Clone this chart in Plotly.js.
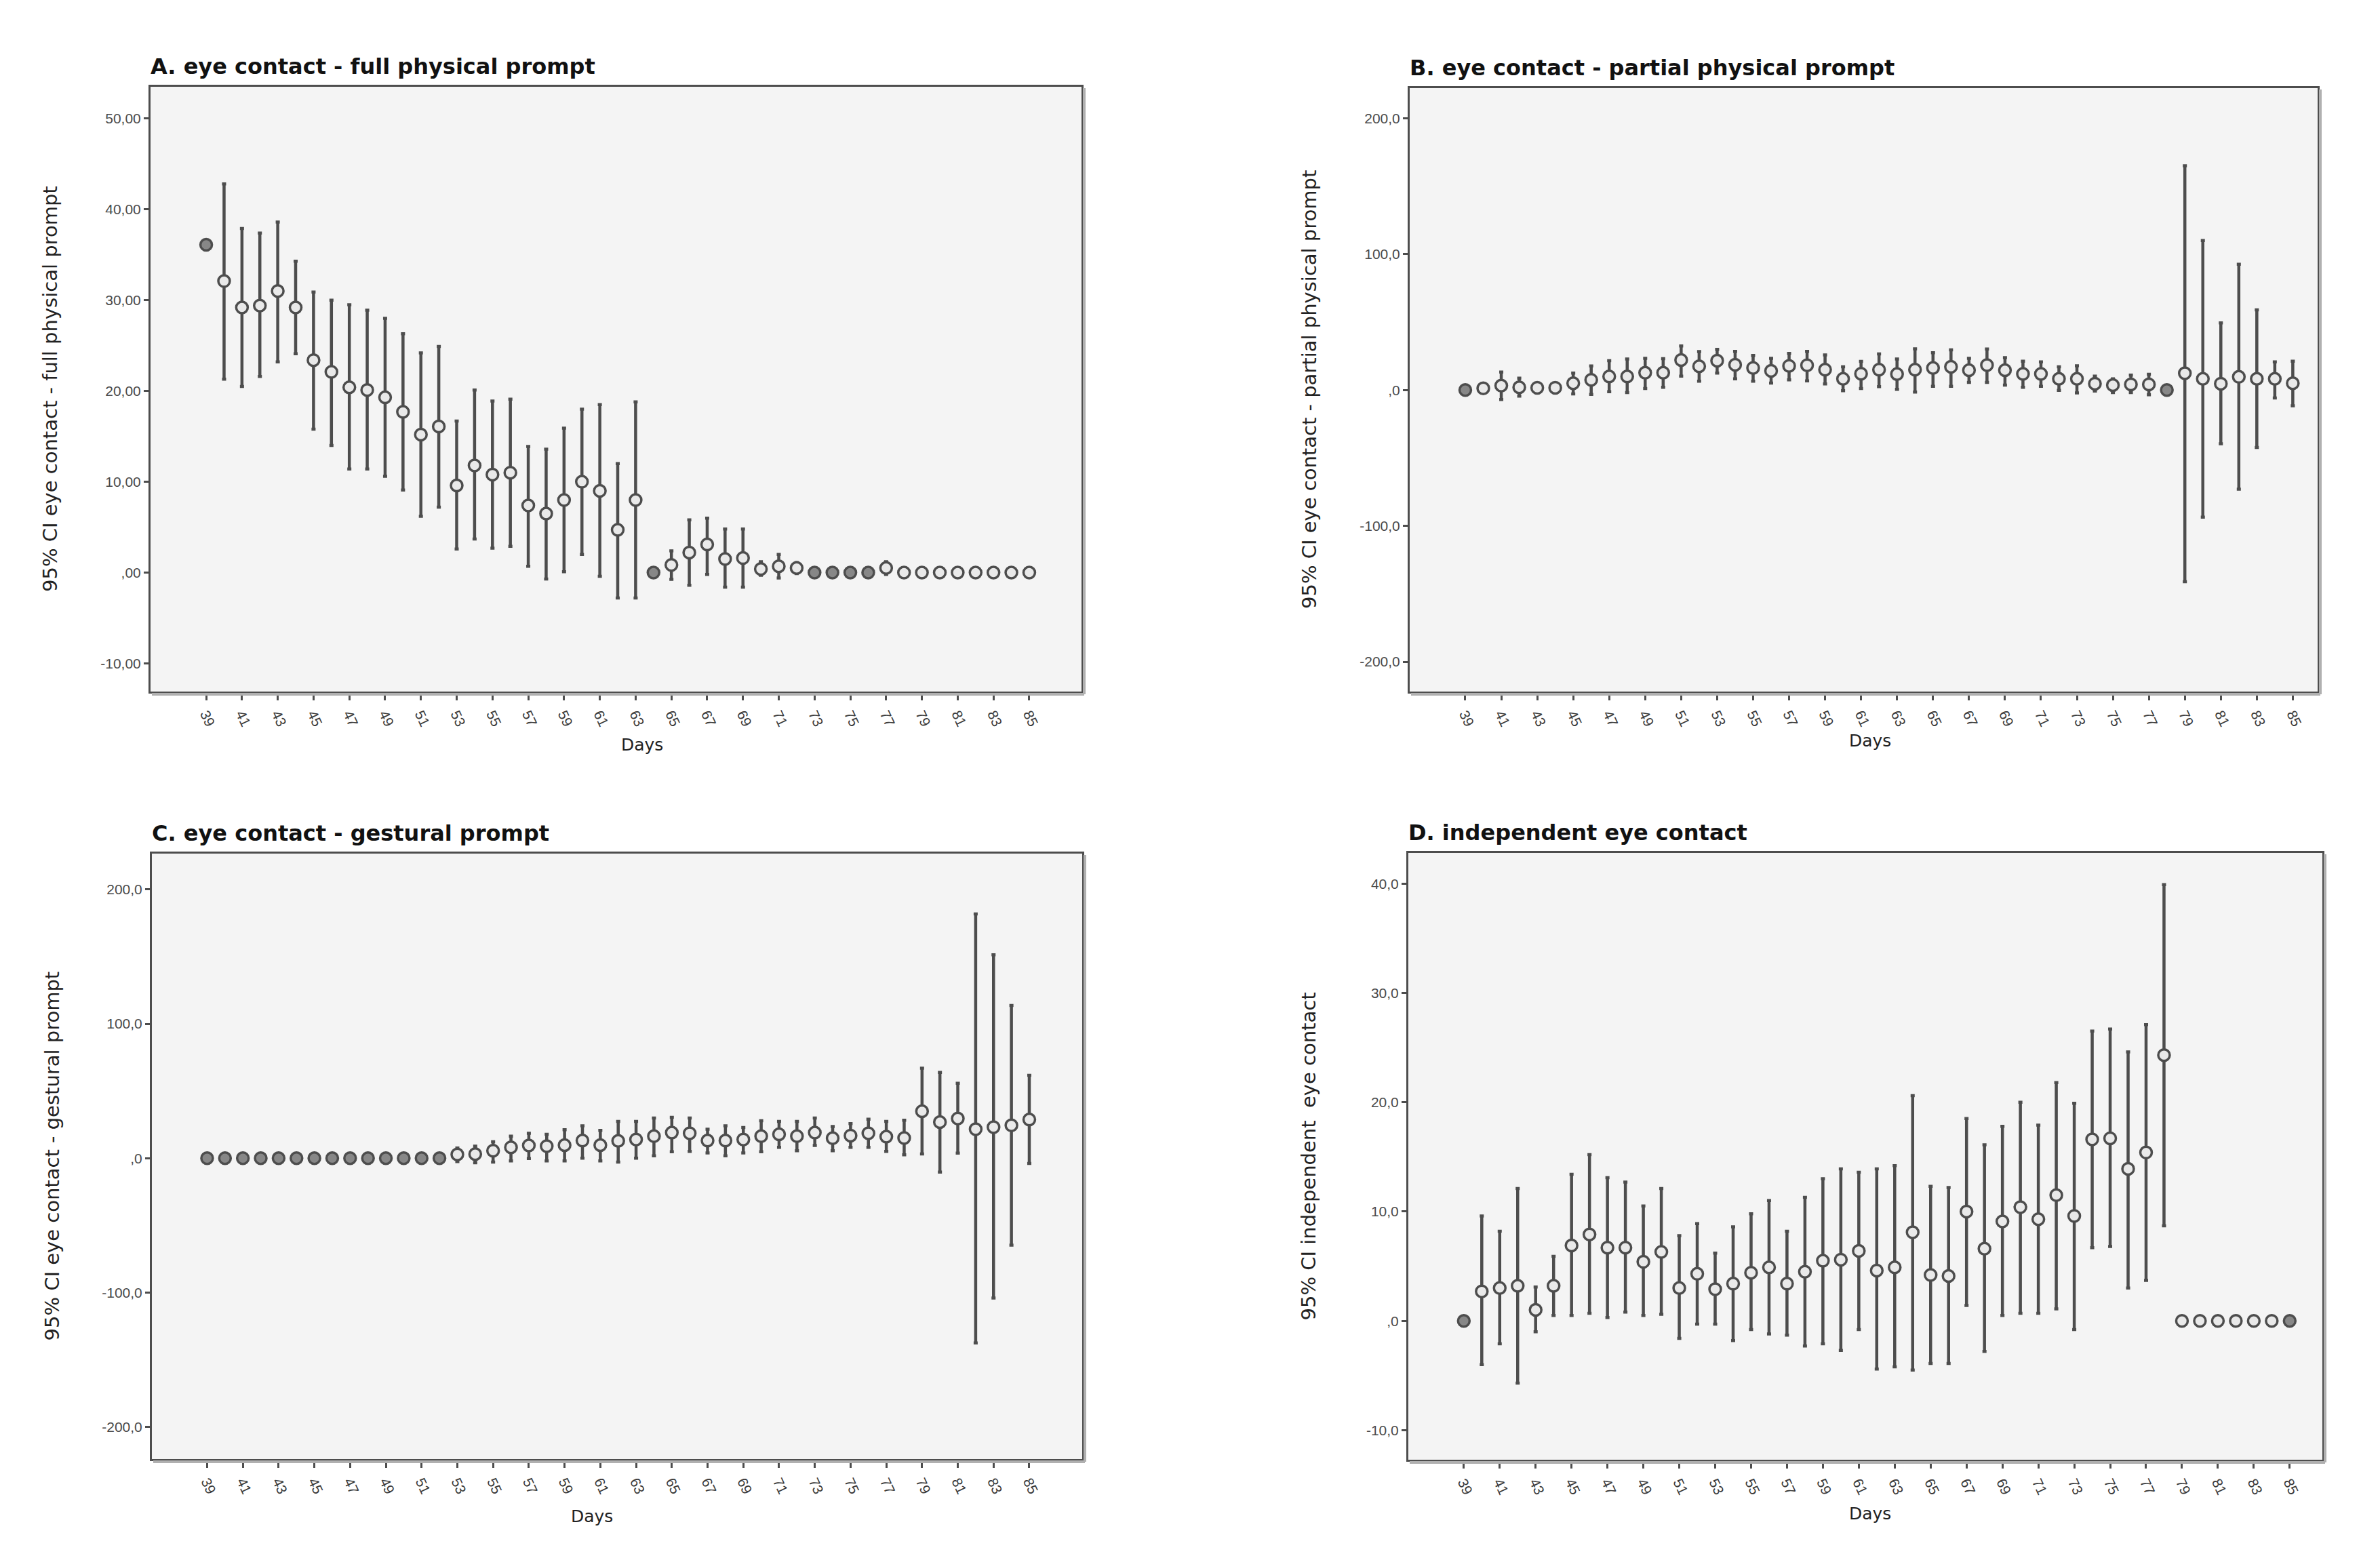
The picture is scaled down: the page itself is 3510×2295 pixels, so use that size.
<!DOCTYPE html>
<html>
<head>
<meta charset="utf-8">
<script src="https://cdn.plot.ly/plotly-3.0.1.min.js"></script>
<style>html,body{margin:0;padding:0;background:#fff;}#chart{width:3510px;height:2295px;}</style>
</head>
<body>
<div id="chart"></div>
<script>
// ---------------- DATA ----------------
const days = [39,40,41,42,43,44,45,46,47,48,49,50,51,52,53,54,55,56,57,58,59,60,61,62,63,64,65,66,67,68,69,70,71,72,73,74,75,76,77,78,79,80,81,82,83,84,85];
const dayTicks = [39,41,43,45,47,49,51,53,55,57,59,61,63,65,67,69,71,73,75,77,79,81,83,85];

// A. eye contact - full physical prompt (mean, 95% CI low, 95% CI high; null = no interval)
const aMean = [36.1,32.1,29.2,29.4,31.0,29.2,23.4,22.1,20.4,20.1,19.3,17.7,15.2,16.1,9.6,11.8,10.8,11.0,7.4,6.5,8.0,10.0,9.0,4.7,8.0,0,0.85,2.2,3.1,1.5,1.6,0.4,0.7,0.5,0,0,0,0,0.5,0,0,0,0,0,0,0,0];
const aLow  = [null,21.3,20.5,21.6,23.2,24.1,15.8,14.0,11.4,11.4,10.6,9.1,6.2,7.2,2.6,3.7,2.7,2.9,0.7,-0.7,0.1,2.0,-0.4,-2.8,-2.8,null,-0.75,-1.4,-0.2,-1.6,-1.6,-0.3,-0.6,-0.1,null,null,null,null,-0.2,null,null,null,null,null,null,null,null];
const aHigh = [null,42.8,37.9,37.4,38.6,34.3,30.9,30.0,29.5,28.9,28.0,26.3,24.2,24.9,16.7,20.1,18.9,19.1,13.9,13.6,15.9,18.0,18.5,12.0,18.8,null,2.4,5.8,6.0,4.8,4.8,1.2,2.0,1.1,null,null,null,null,1.2,null,null,null,null,null,null,null,null];

// B. eye contact - partial physical prompt
const bMean = [0,1.3,3.3,2.0,1.7,1.7,5.0,7.5,10.0,10.0,12.8,12.8,22.1,17.5,21.6,18.6,16.3,14.1,17.8,18.3,15.0,8.3,12.0,15.0,11.8,15.0,16.2,17.1,14.6,18.4,14.6,11.9,11.9,8.3,8.3,4.7,3.6,4.2,4.2,0,12.4,8.3,4.7,9.7,8.3,8.3,5.0];
const bLow  = [null,-1.5,-7.0,-4.5,-0.5,-0.5,-2.8,-3.2,-1.2,-1.8,1.2,2.0,10.3,6.5,12.5,8.2,6.5,5.2,7.5,6.7,4.5,-0.5,1.2,2.5,0.5,-1.5,2.8,2.8,5.6,5.6,3.6,2.0,2.8,-0.2,-2.1,-0.7,-1.8,-1.8,-3.5,null,-141.1,-93.5,-39.5,-73.0,-42.3,-5.9,-11.6];
const bHigh = [null,4.0,13.3,8.8,4.0,4.0,12.5,17.8,21.6,22.8,23.3,23.1,32.4,28.3,30.0,28.5,25.5,23.3,27.0,28.5,25.8,17.1,21.1,26.6,22.8,30.3,27.5,29.6,23.4,30.2,23.9,21.2,20.7,17.1,17.9,10.2,8.3,11.0,11.6,null,165.1,110.1,49.4,92.6,59.0,20.7,21.2];

// C. eye contact - gestural prompt
const cMean = [0,0,0,0,0,0,0,0,0,0,0,0,0,0,2.7,3.0,5.5,8.1,9.4,8.9,9.7,13.1,9.7,12.8,13.9,16.4,19.0,18.5,13.1,13.1,13.9,16.4,17.8,16.4,19.0,14.8,16.8,18.5,16.0,15.0,34.9,26.8,29.5,21.5,23.1,24.4,28.7];
const cLow  = [null,null,null,null,null,null,null,null,null,null,null,null,null,null,-2.5,-3.4,-2.9,-2.0,-0.3,-2.0,-2.0,0,-2.0,-2.9,0,1.7,4.7,5.0,3.9,1.7,3.9,4.7,8.1,5.5,9.4,5.5,8.1,8.1,5.0,2.5,3.1,-10.4,3.7,-137.6,-104.1,-64.8,-3.9];
const cHigh = [null,null,null,null,null,null,null,null,null,null,null,null,null,null,7.5,8.9,12.2,16.4,18.5,17.8,21.1,24.0,20.6,27.3,27.3,29.9,30.4,29.9,21.5,24.0,22.8,27.9,27.3,27.3,29.9,23.5,25.7,29.0,27.3,28.2,67.0,63.8,55.7,181.8,151.4,113.6,61.6];

// D. independent eye contact
const dMean = [0,2.7,3.0,3.2,1.0,3.2,6.9,7.9,6.7,6.7,5.4,6.3,3.0,4.3,2.9,3.4,4.4,4.9,3.4,4.5,5.5,5.6,6.4,4.6,4.9,8.1,4.2,4.1,10.0,6.6,9.1,10.4,9.3,11.5,9.6,16.6,16.7,13.9,15.4,24.3,0,0,0,0,0,0,0];
const dLow  = [null,-4.0,-2.1,-5.7,-1.0,0.5,0.5,0.7,0.3,0.8,0.5,0.6,-1.6,-0.3,-0.3,-1.8,-0.8,-1.2,-1.3,-2.3,-2.1,-2.7,-0.8,-4.4,-4.2,-4.5,-3.9,-3.9,1.4,-2.8,0.5,0.7,0.7,1.1,-0.8,6.7,6.8,3.0,3.7,8.7,null,null,null,null,null,null,null];
const dHigh = [null,9.6,8.2,12.1,3.1,5.9,13.4,15.2,13.1,12.7,10.5,12.1,7.8,8.9,6.2,8.6,9.8,11.0,8.2,11.3,13.0,13.9,13.6,13.9,14.2,20.6,12.3,12.2,18.5,16.1,17.8,20.0,17.9,21.8,19.9,26.5,26.7,24.6,27.1,39.9,null,null,null,null,null,null,null];

// Titles and tick texts
const panelTitles = ["A. eye contact - full physical prompt","B. eye contact - partial physical prompt","C. eye contact - gestural prompt","D. independent eye contact"];
const yTitles = ["95% CI eye contact - full physical prompt","95% CI eye contact - partial physical prompt","95% CI eye contact - gestural prompt","95% CI independent  eye contact"];
const xTitle = "Days";
const aYTicks = [-10,0,10,20,30,40,50];
const aYText  = ["-10,00",",00","10,00","20,00","30,00","40,00","50,00"];
const bYTicks = [-200,-100,0,100,200];
const bYText  = ["-200,0","-100,0",",0","100,0","200,0"];
const cYTicks = [-200,-100,0,100,200];
const cYText  = ["-200,0","-100,0",",0","100,0","200,0"];
const dYTicks = [-10,0,10,20,30,40];
const dYText  = ["-10,0",",0","10,0","20,0","30,0","40,0"];

// ---------------- STYLE / LAYOUT ----------------
const W = 3510, H = 2295;
const px = v => v / W;
const py = v => 1 - v / H;
const DARK = '#4d4d4d';
const FILL_OPEN = '#e9e9e9';
const FILL_SOLID = '#878787';
const openNoCI = { A: [78,79,80,81,82,83,84,85], D: [79,80,81,82,83,84] };

// frames in pixel coords and axis ranges
const frames = {
  A: {l:222, r:1595, t:128, b:1020, xr:[35.89, 87.92], yr:[-13.1, 53.5], dx:947, dy:1099},
  B: {l:2079, r:3418, t:130, b:1020, xr:[35.91, 86.38], yr:[-221.9, 222.2], dx:2758, dy:1093},
  C: {l:224, r:1596, t:1259, b:2152, xr:[35.91, 87.96], yr:[-224, 226.7], dx:873, dy:2236},
  D: {l:2077, r:3425, t:1258, b:2153, xr:[35.91, 86.82], yr:[-12.7, 42.8], dx:2758, dy:2232}
};

function trace(key, mean, low, high, axNum) {
  const plus = mean.map((m, i) => high[i] == null ? NaN : high[i] - m);
  const minus = mean.map((m, i) => low[i] == null ? NaN : m - low[i]);
  const open = openNoCI[key] || [];
  const colors = mean.map((m, i) => (low[i] == null && open.indexOf(days[i]) < 0) ? FILL_SOLID : FILL_OPEN);
  return {
    type: 'scatter', mode: 'markers',
    x: days, y: mean,
    xaxis: 'x' + (axNum === 1 ? '' : axNum), yaxis: 'y' + (axNum === 1 ? '' : axNum),
    marker: {symbol: 'circle', size: 17, color: colors, line: {color: DARK, width: 3.5}},
    error_y: {type: 'data', symmetric: false, array: plus, arrayminus: minus, color: DARK, thickness: 4.5, width: 3},
    hoverinfo: 'x+y', cliponaxis: false
  };
}

const data = [
  trace('A', aMean, aLow, aHigh, 1),
  trace('B', bMean, bLow, bHigh, 2),
  trace('C', cMean, cLow, cHigh, 3),
  trace('D', dMean, dLow, dHigh, 4)
];

const xTickFont = {family: 'Liberation Sans, Arial, sans-serif', size: 21, color: '#3a3a3a'};
const yTickFont = {family: 'Liberation Sans, Arial, sans-serif', size: 21, color: '#4a4a4a'};
function xAxis(f, anchor) {
  return {
    domain: [px(f.l), px(f.r)], anchor: anchor, range: f.xr,
    tickmode: 'array', tickvals: dayTicks, ticktext: dayTicks.map(String),
    tickangle: 65, ticks: 'outside', ticklen: 10, tickwidth: 3, tickcolor: DARK,
    tickfont: xTickFont, showgrid: false, zeroline: false,
    showline: true, linecolor: DARK, linewidth: 3, mirror: true, fixedrange: true
  };
}
function yAxis(f, anchor, vals, txt) {
  return {
    domain: [py(f.b), py(f.t)], anchor: anchor, range: f.yr,
    tickmode: 'array', tickvals: vals, ticktext: txt,
    ticks: 'outside', ticklen: 7, tickwidth: 3, tickcolor: DARK,
    tickfont: yTickFont, showgrid: false, zeroline: false,
    showline: true, linecolor: DARK, linewidth: 3, mirror: true, fixedrange: true
  };
}

const keys = ['A','B','C','D'];
const annotations = [];
const shapes = [];
keys.forEach((k, i) => {
  const f = frames[k];
  annotations.push({
    xref: 'paper', yref: 'paper', x: px(f.l - 2), y: py(f.t - 30), xanchor: 'left', yanchor: 'middle',
    text: '<b>' + panelTitles[i] + '</b>', showarrow: false,
    font: {family: 'DejaVu Sans, Liberation Sans, sans-serif', size: 32, color: '#111'}
  });
  annotations.push({
    xref: 'paper', yref: 'paper', x: px(f.l - 148), y: py((f.t + f.b) / 2), xanchor: 'center', yanchor: 'middle',
    text: yTitles[i], textangle: -90, showarrow: false,
    font: {family: 'DejaVu Sans, Liberation Sans, sans-serif', size: 29, color: '#222'}
  });
  annotations.push({
    xref: 'paper', yref: 'paper', x: px(f.dx), y: py(f.dy), xanchor: 'center', yanchor: 'middle',
    text: xTitle, showarrow: false,
    font: {family: 'DejaVu Sans, Liberation Sans, sans-serif', size: 25, color: '#222'}
  });
  // soft shadow along bottom and right edge of each frame
  shapes.push({type: 'line', xref: 'paper', yref: 'paper', x0: px(f.l + 2), x1: px(f.r + 4), y0: py(f.b + 4), y1: py(f.b + 4), line: {color: '#b0b0b0', width: 4}});
  shapes.push({type: 'line', xref: 'paper', yref: 'paper', x0: px(f.r + 4), x1: px(f.r + 4), y0: py(f.t + 2), y1: py(f.b + 4), line: {color: '#b0b0b0', width: 4}});
});

const layout = {
  width: W, height: H,
  margin: {l: 0, r: 0, t: 0, b: 0},
  paper_bgcolor: '#ffffff', plot_bgcolor: '#f4f4f4',
  showlegend: false,
  xaxis: xAxis(frames.A, 'y'), yaxis: yAxis(frames.A, 'x', aYTicks, aYText),
  xaxis2: xAxis(frames.B, 'y2'), yaxis2: yAxis(frames.B, 'x2', bYTicks, bYText),
  xaxis3: xAxis(frames.C, 'y3'), yaxis3: yAxis(frames.C, 'x3', cYTicks, cYText),
  xaxis4: xAxis(frames.D, 'y4'), yaxis4: yAxis(frames.D, 'x4', dYTicks, dYText),
  annotations: annotations, shapes: shapes
};

Plotly.newPlot('chart', data, layout, {staticPlot: true, displayModeBar: false});
</script>
</body>
</html>
